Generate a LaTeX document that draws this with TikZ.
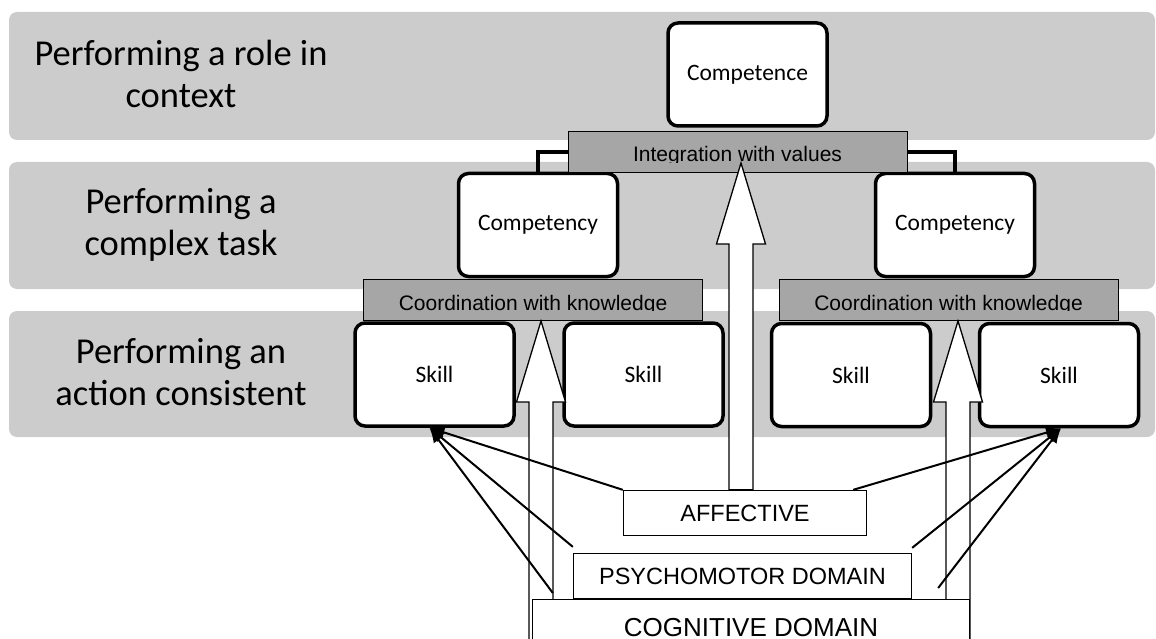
\documentclass[tikz,border=0pt]{standalone}
\usepackage{fontspec}
\setmainfont{Carlito}
\newfontfamily\arialfont{Liberation Sans}
\usetikzlibrary{calc,arrows.meta}
\definecolor{bandgray}{HTML}{CCCCCC}
\definecolor{bargray}{HTML}{A6A6A6}
\tikzset{
 band/.style={fill=bandgray,rounded corners=8pt},
 levelname/.style={align=center,font=\fontsize{36.5}{42}\selectfont},
 unitbox/.style={draw,line width=3.5pt,rounded corners=10pt,fill=white,minimum width=159pt,minimum height=103pt,font=\fontsize{23.5}{28}\selectfont},
 joinbar/.style={draw,line width=1pt,fill=bargray,minimum width=339pt,minimum height=41pt},
 jointext/.style={anchor=base,inner sep=0pt,font=\arialfont\fontsize{21}{25}\selectfont},
 domainbox/.style={draw,line width=1.3pt,fill=white,inner sep=0pt,font=\arialfont\fontsize{23.5}{28}\selectfont},
 elbow/.style={line width=3.5pt},
 feed/.style={line width=2pt,-{Latex[length=15pt,width=12pt]}},
 blockarrow/.style={draw,line width=1.3pt,fill=white}
}
\newcommand\blockarr[2]{\draw[blockarrow] let \p1=(#1),\p2=(#2) in
 (\x2-12pt,\y1) -- (\x2-12pt,\y2-81pt) -- (\x2-24.5pt,\y2-81pt) -- (\x2,\y2)
 -- (\x2+24.5pt,\y2-81pt) -- (\x2+12pt,\y2-81pt) -- (\x2+12pt,\y1) -- cycle;}
\begin{document}
\begin{tikzpicture}[x=1pt,y=-1pt]
\useasboundingbox (0,0) rectangle (1156,639);
\fill[band] (9,12) rectangle (1155,140);
\fill[band] (9,162) rectangle (1155,289);
\fill[band] (9,311) rectangle (1155,437);
\node[levelname] (lvlrole) at (181,74) {Performing a role in\\context};
\node[levelname] (lvltask) at (181,225) {Performing a\\complex task};
\node[levelname] (lvlaction) at (181,372) {Performing an\\action consistent};

\node[unitbox] (cmpce) at (747.5,74.5) {Competence};
\node[unitbox] (cyL) at (538,225) {Competency};
\node[unitbox] (cyR) at (955,225) {Competency};
\node[unitbox] (sk1) at (434.5,374.5) {Skill};
\node[unitbox] (sk2) at (643.5,374.5) {Skill};
\node[unitbox] (sk3) at (851,375) {Skill};
\node[unitbox] (sk4) at (1059,375) {Skill};

\node[joinbar] (intbar) at (737.5,152) {};
\begin{scope}
\clip (intbar.north west) rectangle ([yshift=10.5pt]intbar.south east);
\node[jointext] (inttxt) at ([yshift=11pt]intbar.south) {Integration with values};
\end{scope}
\node[joinbar] (cbarL) at (533,300) {};
\begin{scope}
\clip (cbarL.north west) rectangle ([yshift=10.5pt]cbarL.south east);
\node[jointext] (ctxtL) at ([yshift=11pt]cbarL.south) {Coordination with knowledge};
\end{scope}
\node[joinbar] (cbarR) at (948.5,300) {};
\begin{scope}
\clip (cbarR.north west) rectangle ([yshift=10.5pt]cbarR.south east);
\node[jointext] (ctxtR) at ([yshift=11pt]cbarR.south) {Coordination with knowledge};
\end{scope}
\draw[elbow] (cyL.north) |- (intbar.west);
\draw[elbow] (cyR.north) |- (intbar.east);

\node[domainbox,minimum width=243pt,minimum height=45pt] (affect) at (745,513) {AFFECTIVE};
\node[domainbox,minimum width=338pt,minimum height=45pt] (psycho) at (742.5,576) {PSYCHOMOTOR DOMAIN};

\coordinate (tipC) at (741,163);
\coordinate (srcL) at (541,660);
\coordinate (srcR) at (958,660);
\blockarr{affect.north}{tipC}
\blockarr{srcL}{cbarL.south -| srcL}
\blockarr{srcR}{cbarR.south -| srcR}

\node[domainbox,anchor=north,minimum width=437pt,minimum height=56pt,font=\arialfont\fontsize{26}{30}\selectfont] (cog) at (751,599) {COGNITIVE DOMAIN};

\draw[feed] (affect.north west) -- ([xshift=-5pt]sk1.south);
\draw[feed] ([yshift=6pt]psycho.north west) -- ([xshift=-5pt]sk1.south);
\draw[feed] ([xshift=21pt,yshift=6pt]cog.north west) -- ([xshift=-5pt]sk1.south);
\draw[feed] ([xshift=-14pt]affect.north east) -- ([xshift=2pt]sk4.south);
\draw[feed] ([yshift=5pt]psycho.north east) -- ([xshift=2pt]sk4.south);
\draw[feed] ([xshift=-32pt,yshift=11pt]cog.north east) -- ([xshift=2pt]sk4.south);
\end{tikzpicture}
\end{document}
